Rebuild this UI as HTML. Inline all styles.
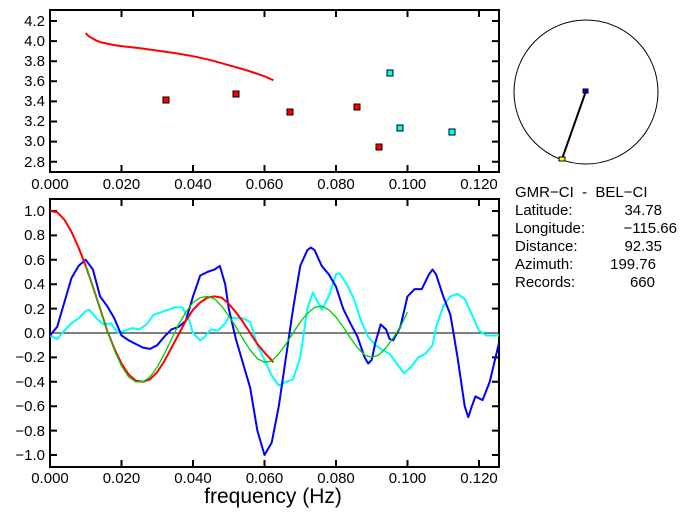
<!DOCTYPE html>
<html><head><style>
html,body{margin:0;padding:0;background:#fff;}
svg{display:block;}
text{font-family:"Liberation Sans",sans-serif;font-size:15px;fill:#000;white-space:pre;}
.ns{vector-effect:non-scaling-stroke;fill:none;stroke-linejoin:round;}
</style></head><body>
<svg width="687" height="519" viewBox="0 0 687 519" xmlns="http://www.w3.org/2000/svg">
<rect x="50" y="10" width="449" height="162" fill="none" stroke="#000" stroke-width="2"/>
<g stroke="#000" stroke-width="2">
<path d="M121.5 10v7M193 10v7M264.5 10v7M336 10v7M407.5 10v7M479 10v7M121.5 172v-7M193 172v-7M264.5 172v-7M336 172v-7M407.5 172v-7M479 172v-7"/>
<path d="M50 21h7M50 41.1h7M50 61.2h7M50 81.3h7M50 101.4h7M50 121.5h7M50 141.6h7M50 161.7h7M499 21h-7M499 41.1h-7M499 61.2h-7M499 81.3h-7M499 101.4h-7M499 121.5h-7M499 141.6h-7M499 161.7h-7"/>
</g>
<g text-anchor="end">
<text x="45" y="26">4.2</text><text x="45" y="46">4.0</text><text x="45" y="66">3.8</text><text x="45" y="86">3.6</text><text x="45" y="106">3.4</text><text x="45" y="126">3.2</text><text x="45" y="146">3.0</text><text x="45" y="167">2.8</text>
</g>
<g text-anchor="middle">
<text x="50" y="189">0.000</text><text x="121.5" y="189">0.020</text><text x="193" y="189">0.040</text><text x="264.5" y="189">0.060</text><text x="336" y="189">0.080</text><text x="407.5" y="189">0.100</text><text x="479" y="189">0.120</text>
</g>
<g transform="translate(50,443.1) scale(3575,-100.5)">
<polyline class="ns" stroke="#f00" stroke-width="2" points="0.01,4.08 0.0105,4.06 0.011,4.045 0.012,4.025 0.013,4.005 0.014,3.99 0.016,3.975 0.018,3.96 0.020,3.95 0.025,3.93 0.030,3.905 0.035,3.88 0.040,3.85 0.045,3.81 0.050,3.76 0.055,3.71 0.060,3.65 0.0625,3.61"/>
</g>
<g stroke="#000" stroke-width="1">
<rect x="163" y="97" width="6" height="6" fill="#f00"/>
<rect x="233" y="91" width="6" height="6" fill="#f00"/>
<rect x="287" y="109" width="6" height="6" fill="#f00"/>
<rect x="354" y="104" width="6" height="6" fill="#f00"/>
<rect x="376" y="144" width="6" height="6" fill="#f00"/>
<rect x="387" y="70" width="6" height="6" fill="#0ff"/>
<rect x="397" y="125" width="6" height="6" fill="#0ff"/>
<rect x="449" y="129" width="6" height="6" fill="#0ff"/>
</g>
<rect x="50" y="199" width="449" height="268" fill="none" stroke="#000" stroke-width="2"/>
<g stroke="#000" stroke-width="2">
<path d="M121.5 199v7M193 199v7M264.5 199v7M336 199v7M407.5 199v7M479 199v7M121.5 467v-7M193 467v-7M264.5 467v-7M336 467v-7M407.5 467v-7M479 467v-7"/>
<path d="M50 211h7M50 235.4h7M50 259.8h7M50 284.2h7M50 308.6h7M50 357.4h7M50 381.8h7M50 406.2h7M50 430.6h7M50 455h7M499 211h-7M499 235.4h-7M499 259.8h-7M499 284.2h-7M499 308.6h-7M499 357.4h-7M499 381.8h-7M499 406.2h-7M499 430.6h-7M499 455h-7"/>
</g>
<line x1="50" y1="333" x2="499" y2="333" stroke="#000" stroke-width="1"/>
<g text-anchor="end">
<text x="45" y="216">1.0</text><text x="45" y="240">0.8</text><text x="45" y="265">0.6</text><text x="45" y="289">0.4</text><text x="45" y="314">0.2</text><text x="45" y="338">0.0</text><text x="45" y="362">−0.2</text><text x="45" y="387">−0.4</text><text x="45" y="411">−0.6</text><text x="45" y="436">−0.8</text><text x="45" y="460">−1.0</text>
</g>
<g text-anchor="middle">
<text x="50" y="483">0.000</text><text x="121.5" y="483">0.020</text><text x="193" y="483">0.040</text><text x="264.5" y="483">0.060</text><text x="336" y="483">0.080</text><text x="407.5" y="483">0.100</text><text x="479" y="483">0.120</text>
<text x="273" y="503" style="font-size:21px">frequency (Hz)</text>
</g>
<svg x="50" y="199" width="449" height="268" overflow="hidden">
<g transform="translate(0,134) scale(3575,-122)">
<polyline class="ns" stroke="#0ff" stroke-width="2" points="0,-0.02 0.002,-0.05 0.004,0.02 0.006,0.08 0.008,0.12 0.010,0.18 0.011,0.19 0.013,0.12 0.015,0.07 0.017,0.08 0.019,0.0 0.021,0.02 0.023,0.04 0.025,0.03 0.027,0.07 0.029,0.15 0.032,0.18 0.035,0.21 0.037,0.21 0.039,0.1 0.040,0.0 0.042,-0.06 0.043,-0.04 0.045,0.03 0.047,0.02 0.049,0.08 0.050,0.13 0.052,0.12 0.054,0.12 0.056,0.09 0.058,-0.1 0.060,-0.22 0.062,-0.35 0.064,-0.43 0.066,-0.4 0.068,-0.38 0.070,-0.2 0.072,0.2 0.0735,0.33 0.075,0.25 0.076,0.19 0.078,0.3 0.080,0.48 0.081,0.49 0.083,0.4 0.085,0.28 0.087,0.1 0.089,-0.03 0.091,-0.1 0.093,-0.14 0.095,-0.17 0.097,-0.25 0.099,-0.33 0.101,-0.28 0.103,-0.2 0.105,-0.17 0.107,-0.1 0.108,0.05 0.110,0.22 0.112,0.3 0.114,0.32 0.116,0.28 0.118,0.15 0.120,0.02 0.122,-0.02 0.1256,-0.02"/>
<polyline class="ns" stroke="#00f" stroke-width="2" points="0,-0.02 0.002,0.05 0.004,0.25 0.006,0.45 0.008,0.55 0.010,0.6 0.012,0.52 0.014,0.3 0.016,0.22 0.018,0.12 0.020,-0.02 0.022,-0.06 0.024,-0.09 0.026,-0.12 0.028,-0.13 0.030,-0.1 0.032,-0.03 0.034,0.03 0.036,0.05 0.038,0.1 0.040,0.3 0.042,0.47 0.044,0.5 0.046,0.52 0.0475,0.55 0.049,0.4 0.050,0.2 0.052,-0.05 0.054,-0.25 0.056,-0.45 0.058,-0.8 0.060,-1.0 0.062,-0.9 0.064,-0.6 0.066,-0.2 0.068,0.2 0.070,0.55 0.072,0.68 0.073,0.7 0.074,0.68 0.076,0.55 0.078,0.48 0.080,0.38 0.082,0.2 0.084,0.08 0.086,-0.03 0.088,-0.2 0.089,-0.25 0.090,-0.22 0.091,-0.08 0.0925,0.07 0.094,0.03 0.095,-0.05 0.096,-0.06 0.098,0.05 0.100,0.3 0.102,0.36 0.104,0.36 0.106,0.48 0.107,0.52 0.108,0.48 0.110,0.3 0.112,0.15 0.114,-0.2 0.116,-0.6 0.117,-0.69 0.118,-0.6 0.119,-0.52 0.121,-0.55 0.123,-0.4 0.1256,-0.08"/>
<polyline class="ns" stroke="#f00" stroke-width="2" points="0,1 0.002,0.99 0.004,0.93 0.006,0.83 0.008,0.7 0.010,0.55 0.012,0.38 0.014,0.2 0.016,0.02 0.018,-0.13 0.020,-0.25 0.022,-0.34 0.024,-0.39 0.026,-0.4 0.028,-0.38 0.030,-0.32 0.032,-0.23 0.034,-0.12 0.036,-0.01 0.038,0.1 0.040,0.19 0.042,0.25 0.044,0.29 0.046,0.3 0.048,0.29 0.050,0.24 0.052,0.17 0.054,0.09 0.056,0.0 0.058,-0.09 0.060,-0.16 0.0625,-0.24"/>
<polyline class="ns" stroke="#0c0" stroke-width="1.3" points="0.010,0.55 0.012,0.38 0.014,0.2 0.016,0.02 0.018,-0.14 0.020,-0.27 0.022,-0.36 0.024,-0.4 0.026,-0.4 0.028,-0.36 0.030,-0.28 0.032,-0.17 0.034,-0.05 0.036,0.07 0.038,0.17 0.040,0.25 0.042,0.29 0.044,0.3 0.046,0.28 0.048,0.22 0.050,0.14 0.052,0.05 0.054,-0.05 0.056,-0.14 0.058,-0.21 0.060,-0.24 0.062,-0.23 0.064,-0.17 0.066,-0.09 0.068,0.0 0.070,0.09 0.072,0.16 0.074,0.21 0.076,0.22 0.078,0.19 0.080,0.13 0.082,0.05 0.084,-0.04 0.086,-0.12 0.088,-0.18 0.090,-0.2 0.092,-0.18 0.094,-0.12 0.096,-0.04 0.098,0.05 0.100,0.17"/>
</g>
</svg>
<circle cx="586" cy="92" r="72" fill="none" stroke="#000" stroke-width="1"/>
<line x1="586" y1="91" x2="562" y2="159" stroke="#000" stroke-width="2"/>
<rect x="583" y="89" width="5" height="4" fill="#00f" stroke="#000" stroke-width="1"/>
<rect x="559" y="157" width="6" height="4" fill="#ff0" stroke="#000" stroke-width="1"/>
<text x="515" y="197">GMR−CI  -  BEL−CI</text>
<text x="515" y="215">Latitude:</text><text x="662" y="215" text-anchor="end">34.78</text>
<text x="515" y="233">Longitude:</text><text x="677" y="233" text-anchor="end">−115.66</text>
<text x="515" y="251">Distance:</text><text x="662" y="251" text-anchor="end">92.35</text>
<text x="515" y="269">Azimuth:</text><text x="656" y="269" text-anchor="end">199.76</text>
<text x="515" y="287">Records:</text><text x="655" y="287" text-anchor="end">660</text>
</svg>
</body></html>
